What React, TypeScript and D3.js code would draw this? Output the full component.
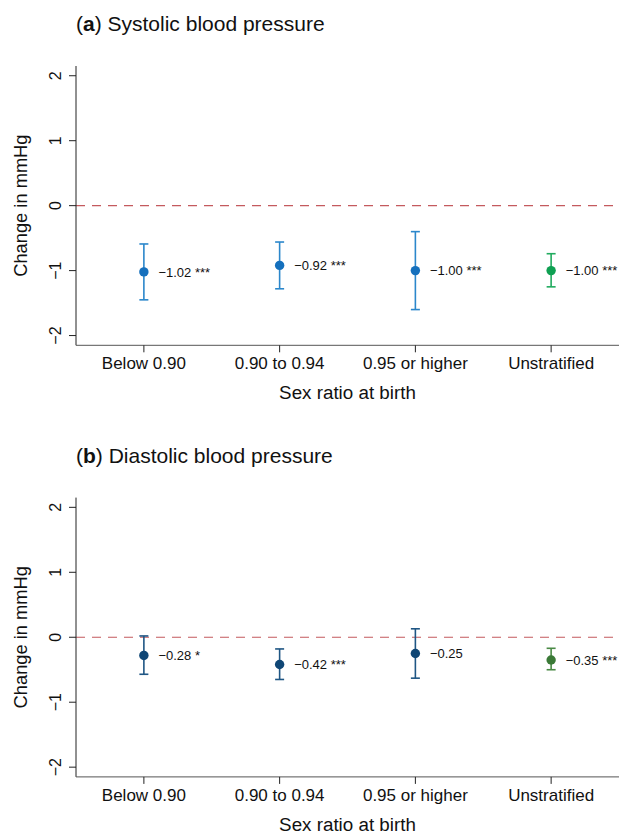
import * as d3 from 'd3';

const categories = ['Below 0.90', '0.90 to 0.94', '0.95 or higher', 'Unstratified'];
const yTicks = [-2, -1, 0, 1, 2];

const systolicEst = [-1.02, -0.92, -1.0, -1.0];
const systolicLow = [-1.45, -1.28, -1.6, -1.25];
const systolicHigh = [-0.59, -0.56, -0.4, -0.74];
const systolicStars = ['***', '***', '***', '***'];

const diastolicEst = [-0.28, -0.42, -0.25, -0.35];
const diastolicLow = [-0.57, -0.65, -0.63, -0.5];
const diastolicHigh = [0.02, -0.18, 0.13, -0.17];
const diastolicStars = ['*', '***', '', '***'];

const FONT = '"Liberation Sans", Arial, Helvetica, sans-serif';
const W = 619;
const H = 836;
const left = 76;
const right = 619;

const fmt = d3.format('.2f');

type PanelProps = {
  top: number;
  letter: string;
  title: string;
  est: number[];
  low: number[];
  high: number[];
  stars: string[];
  colors: { dot: string; bar: string }[];
};

const Panel = ({ top, letter, title, est, low, high, stars, colors }: PanelProps) => {
  const x = d3.scaleBand().domain(categories).range([left, right]).padding(0);
  const y = d3.scaleLinear().domain([-2.15, 2.15]).range([top + 279.3, top]);
  const axisY = y(-2.15);
  const cx = (c: string) => (x(c) as number) + x.bandwidth() / 2;

  return (
    <g>
      <text x={76} y={top - 35} fontSize={21} fill="#111">
        (<tspan fontWeight="bold">{letter}</tspan>) {title}
      </text>

      {/* zero reference */}
      <line x1={left} x2={right} y1={y(0)} y2={y(0)} stroke="#c45a5e" strokeWidth={1.2} strokeDasharray="9,7" />

      {/* y axis */}
      <line x1={left} x2={left} y1={top} y2={axisY} stroke="#222" strokeWidth={1} />
      {yTicks.map((t) => (
        <g key={t}>
          <line x1={left - 7} x2={left} y1={y(t)} y2={y(t)} stroke="#222" />
          <text
            transform={`translate(61,${y(t)}) rotate(-90)`}
            textAnchor="middle"
            fontSize={16}
            fill="#111"
          >
            {d3.format('d')(t)}
          </text>
        </g>
      ))}
      <text
        transform={`translate(26.5,${y(0)}) rotate(-90)`}
        textAnchor="middle"
        fontSize={18.3}
        fill="#111"
      >
        Change in mmHg
      </text>

      {/* x axis */}
      <line x1={left} x2={right} y1={axisY} y2={axisY} stroke="#555" strokeWidth={1} />
      {categories.map((c) => (
        <g key={c}>
          <line x1={cx(c)} x2={cx(c)} y1={axisY} y2={axisY + 7} stroke="#222" />
          <text x={cx(c)} y={axisY + 24} textAnchor="middle" fontSize={17} fill="#111">
            {c}
          </text>
        </g>
      ))}
      <text x={(left + right) / 2} y={axisY + 54} textAnchor="middle" fontSize={18.8} fill="#111">
        Sex ratio at birth
      </text>

      {/* estimates */}
      {categories.map((c, i) => {
        const px = cx(c);
        const col = colors[i];
        return (
          <g key={c}>
            <line x1={px} x2={px} y1={y(high[i])} y2={y(low[i])} stroke={col.bar} strokeWidth={1.6} />
            <line x1={px - 4.5} x2={px + 4.5} y1={y(high[i])} y2={y(high[i])} stroke={col.bar} strokeWidth={1.6} />
            <line x1={px - 4.5} x2={px + 4.5} y1={y(low[i])} y2={y(low[i])} stroke={col.bar} strokeWidth={1.6} />
            <circle cx={px} cy={y(est[i])} r={4.7} fill={col.dot} />
            <text x={px + 14.5} y={y(est[i]) + 4.6} fontSize={13} fill="#111">
              {fmt(est[i])}
              {stars[i] ? ` ${stars[i]}` : ''}
            </text>
          </g>
        );
      })}
    </g>
  );
};

export default function App() {
  const blueA = { dot: '#1570bd', bar: '#2b87cb' };
  const greenA = { dot: '#0fa052', bar: '#21ab5f' };
  const navyB = { dot: '#0f4675', bar: '#1f5684' };
  const greenB = { dot: '#3b7a37', bar: '#4a8a45' };

  return (
    <svg
      width={W}
      height={H}
      style={{ position: 'absolute', left: 0, top: 0, background: '#fff' }}
      fontFamily={FONT}
    >
      <Panel
        top={66}
        letter="a"
        title="Systolic blood pressure"
        est={systolicEst}
        low={systolicLow}
        high={systolicHigh}
        stars={systolicStars}
        colors={[blueA, blueA, blueA, greenA]}
      />
      <Panel
        top={497.6}
        letter="b"
        title="Diastolic blood pressure"
        est={diastolicEst}
        low={diastolicLow}
        high={diastolicHigh}
        stars={diastolicStars}
        colors={[navyB, navyB, navyB, greenB]}
      />
    </svg>
  );
}
